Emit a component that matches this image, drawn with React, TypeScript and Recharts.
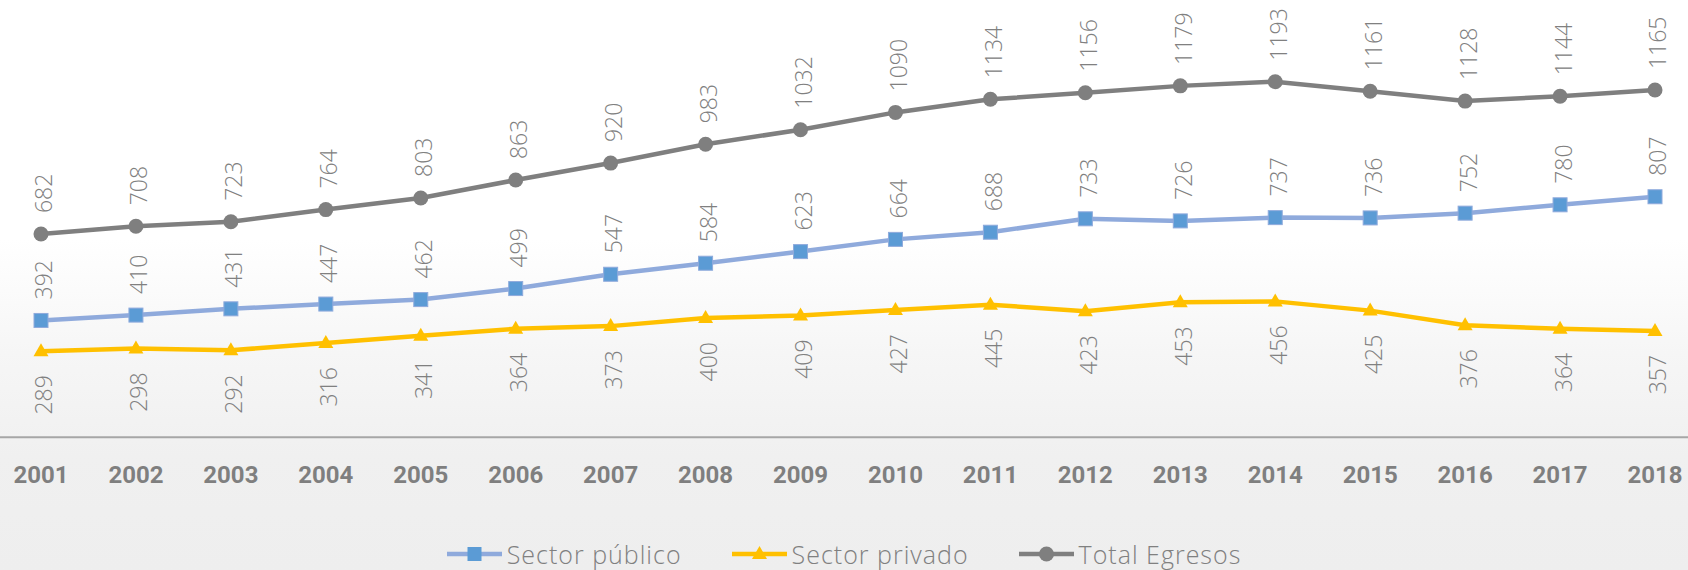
import React from 'react';
import { LineChart, Line, XAxis, YAxis, LabelList } from 'recharts';

const years = ['2001','2002','2003','2004','2005','2006','2007','2008','2009','2010','2011','2012','2013','2014','2015','2016','2017','2018'];
const sectorPublico = [392,410,431,447,462,499,547,584,623,664,688,733,726,737,736,752,780,807];
const sectorPrivado = [289,298,292,316,341,364,373,400,409,427,445,423,453,456,425,376,364,357];
const totalEgresos = [682,708,723,764,803,863,920,983,1032,1090,1134,1156,1179,1193,1161,1128,1144,1165];

const data = years.map((y, i) => ({
  year: y,
  publico: sectorPublico[i],
  privado: sectorPrivado[i],
  total: totalEgresos[i],
}));

const LABEL_FONT = "'Open Sans', 'DejaVu Sans', sans-serif";
const LABEL_COLOR = '#808080';

const makeLabel = (pos: 'above' | 'below') => (props: any) => {
  const x = props.x ?? props.viewBox?.x;
  const y = props.y ?? props.viewBox?.y;
  const ty = pos === 'above' ? y - 21 : y + 24;
  return (
    <text
      x={x}
      y={ty}
      dy={11.5}
      transform={`rotate(-90 ${x} ${ty})`}
      textAnchor={pos === 'above' ? 'start' : 'end'}
      fill={LABEL_COLOR}
      fontSize={23}
      fontWeight={300}
      fontFamily={LABEL_FONT}
    >
      {props.value}
    </text>
  );
};

const SquareDot = (props: any) => {
  const { cx, cy } = props;
  if (cx == null || cy == null) return null;
  return <rect x={cx - 7} y={cy - 7} width={14} height={14} fill="#5b9bd5" stroke="#8faadc" strokeWidth={1} />;
};

const TriangleDot = (props: any) => {
  const { cx, cy } = props;
  if (cx == null || cy == null) return null;
  return <polygon points={`${cx},${cy - 8} ${cx + 7.5},${cy + 5} ${cx - 7.5},${cy + 5}`} fill="#ffc000" />;
};

const CircleDot = (props: any) => {
  const { cx, cy } = props;
  if (cx == null || cy == null) return null;
  return <circle cx={cx} cy={cy} r={7.5} fill="#7f7f7f" />;
};

const YearTick = (props: any) => {
  const { x, y, payload } = props;
  return (
    <text x={x} y={y} dy={38} textAnchor="middle" fill="#7f7f7f" fontSize={24} fontWeight={700} fontFamily="Roboto, 'DejaVu Sans', sans-serif">
      {payload.value}
    </text>
  );
};

const legendItems = [
  { name: 'Sector público', line: '#8faadc', kind: 'square' },
  { name: 'Sector privado', line: '#ffc000', kind: 'triangle' },
  { name: 'Total Egresos', line: '#7f7f7f', kind: 'circle' },
];

const LegendIcon = ({ kind, line }: { kind: string; line: string }) => (
  <svg width={55} height={20} style={{ display: 'block' }}>
    <line x1={0} y1={10} x2={55} y2={10} stroke={line} strokeWidth={4.5} />
    {kind === 'square' && <rect x={20.5} y={3} width={14} height={14} fill="#5b9bd5" />}
    {kind === 'triangle' && <polygon points="27.5,2 35,15 20,15" fill="#ffc000" />}
    {kind === 'circle' && <circle cx={27.5} cy={10} r={7.5} fill="#7f7f7f" />}
  </svg>
);

export default function App() {
  return (
    <div
      style={{
        position: 'absolute',
        left: 0,
        top: 0,
        width: 1688,
        height: 570,
        overflow: 'hidden',
        background: 'linear-gradient(180deg, #ffffff 0%, #ffffff 42%, #f6f6f6 62%, #f0f0f0 80%, #eeeeee 100%)',
      }}
    >
      <LineChart width={1688} height={570} data={data} margin={{ top: 20, right: 0, left: 0, bottom: 72.7 }}>
        <XAxis
          dataKey="year"
          height={60}
          padding={{ left: 41, right: 33 }}
          axisLine={{ stroke: '#a6a6a6', strokeWidth: 2 }}
          tickLine={false}
          tick={<YearTick />}
          interval={0}
        />
        <YAxis hide domain={[0, 1400]} />
        <Line
          dataKey="publico"
          stroke="#8faadc"
          strokeWidth={4.5}
          dot={<SquareDot />}
          activeDot={false}
          isAnimationActive={false}
        >
          <LabelList dataKey="publico" content={makeLabel('above')} />
        </Line>
        <Line
          dataKey="privado"
          stroke="#ffc000"
          strokeWidth={4.5}
          dot={<TriangleDot />}
          activeDot={false}
          isAnimationActive={false}
        >
          <LabelList dataKey="privado" content={makeLabel('below')} />
        </Line>
        <Line
          dataKey="total"
          stroke="#7f7f7f"
          strokeWidth={4.5}
          dot={<CircleDot />}
          activeDot={false}
          isAnimationActive={false}
        >
          <LabelList dataKey="total" content={makeLabel('above')} />
        </Line>
      </LineChart>
      <div
        style={{
          position: 'absolute',
          left: 0,
          top: 539,
          width: 1688,
          height: 30,
          display: 'flex',
          justifyContent: 'center',
          alignItems: 'center',
          gap: 50,
        }}
      >
        {legendItems.map((it) => (
          <div key={it.name} style={{ display: 'flex', alignItems: 'center', gap: 5 }}>
            <LegendIcon kind={it.kind} line={it.line} />
            <span style={{ fontFamily: LABEL_FONT, fontWeight: 300, fontSize: 25, letterSpacing: 1, color: '#808080', lineHeight: '30px' }}>
              {it.name}
            </span>
          </div>
        ))}
      </div>
    </div>
  );
}
